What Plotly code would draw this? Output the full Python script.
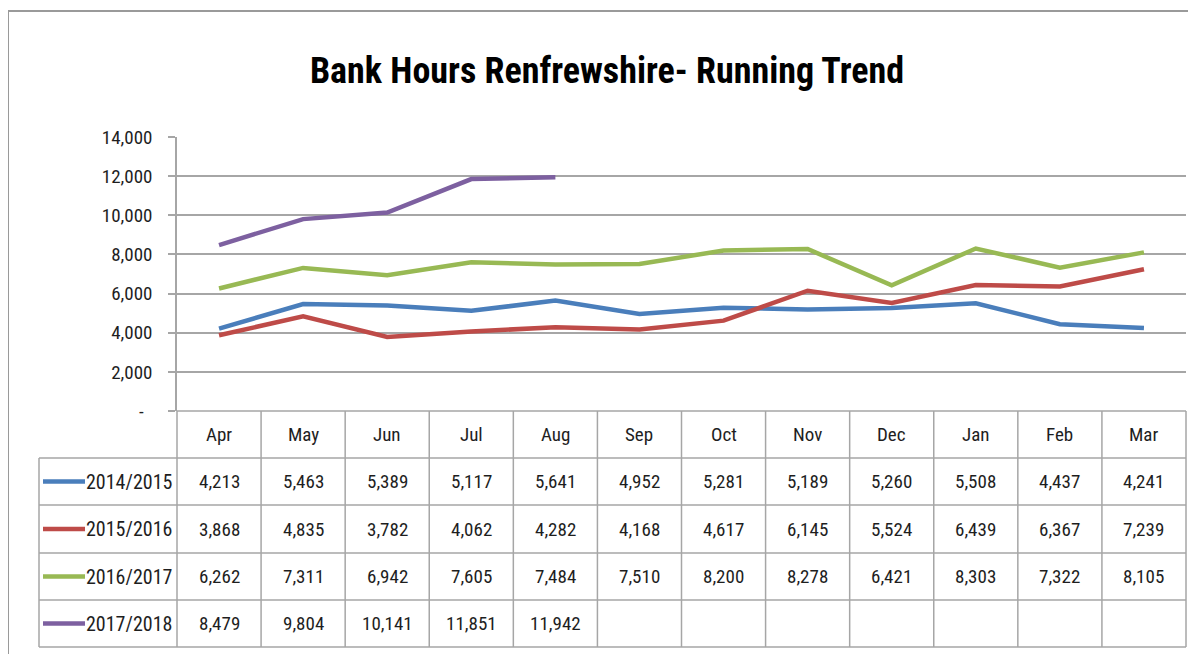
import plotly.graph_objects as go

# ---------------- data ----------------
months = ["Apr", "May", "Jun", "Jul", "Aug", "Sep", "Oct", "Nov", "Dec", "Jan", "Feb", "Mar"]
series_names = ["2014/2015", "2015/2016", "2016/2017", "2017/2018"]
s2014 = [4213, 5463, 5389, 5117, 5641, 4952, 5281, 5189, 5260, 5508, 4437, 4241]
s2015 = [3868, 4835, 3782, 4062, 4282, 4168, 4617, 6145, 5524, 6439, 6367, 7239]
s2016 = [6262, 7311, 6942, 7605, 7484, 7510, 8200, 8278, 6421, 8303, 7322, 8105]
s2017 = [8479, 9804, 10141, 11851, 11942, None, None, None, None, None, None, None]
ytick_vals = [0, 2000, 4000, 6000, 8000, 10000, 12000, 14000]
ytick_text = ["-  ", "2,000", "4,000", "6,000", "8,000", "10,000", "12,000", "14,000"]
title_text = "Bank Hours Renfrewshire- Running Trend"

# ---------------- style ----------------
W, H = 1196, 654
OFF = 8  # page body margin
colors = ["#4A7EBB", "#BE4B48", "#98B954", "#7D60A0"]
grid = "#a6a6a6"
tcol = "#1e1e1e"
FONT = "Liberation Sans Narrow, Arial Narrow, Roboto Condensed, DejaVu Sans Condensed, sans-serif"


def px(p):
    return (p - OFF) / W


def py(p):
    return 1 - (p - OFF) / H


plot_left, plot_right = 177, 1186
plot_top, plot_bottom = 137, 411
row_edges = [411, 458, 505, 553, 600, 647]
table_left = 39

fig = go.Figure()
all_series = [s2014, s2015, s2016, s2017]
for name, vals, c in zip(series_names, all_series, colors):
    fig.add_trace(go.Scatter(x=months, y=vals, mode="lines", name=name,
                             line=dict(color=c, width=4.5), connectgaps=False,
                             showlegend=False))

shapes = []
line_style = dict(color=grid, width=1.5)
# outer chart border (top and left)
shapes.append(dict(type="line", xref="paper", yref="paper", x0=px(8), x1=1.0, y0=py(11), y1=py(11),
                   line=dict(color="#9a9a9a", width=2)))
shapes.append(dict(type="line", xref="paper", yref="paper", x0=px(8), x1=px(8), y0=py(11), y1=0,
                   line=dict(color="#9a9a9a", width=2)))
# y axis extension through the table
shapes.append(dict(type="line", xref="paper", yref="paper", x0=px(plot_left), x1=px(plot_left),
                   y0=py(plot_bottom), y1=py(row_edges[-1]), line=line_style))
# header top line
shapes.append(dict(type="line", xref="paper", yref="paper", x0=px(plot_left), x1=px(plot_right),
                   y0=py(row_edges[0]), y1=py(row_edges[0]), line=line_style))
# row lines
for e in row_edges[1:]:
    shapes.append(dict(type="line", xref="paper", yref="paper", x0=px(table_left), x1=px(plot_right),
                       y0=py(e), y1=py(e), line=line_style))
# left and right table borders
shapes.append(dict(type="line", xref="paper", yref="paper", x0=px(table_left), x1=px(table_left),
                   y0=py(row_edges[1]), y1=py(row_edges[-1]), line=line_style))
shapes.append(dict(type="line", xref="paper", yref="paper", x0=px(plot_right), x1=px(plot_right),
                   y0=py(row_edges[0]), y1=py(row_edges[-1]), line=line_style))
# column separators (between categories)
for i in range(len(months) - 1):
    shapes.append(dict(type="line", xref="x", yref="paper", x0=i + 0.5, x1=i + 0.5,
                       y0=py(row_edges[0]), y1=py(row_edges[-1]), line=line_style))

annotations = []
# header month labels
hdr_y = (row_edges[0] + row_edges[1]) / 2
for i, m in enumerate(months):
    annotations.append(dict(x=m, xref="x", y=py(hdr_y), yref="paper", text=m, showarrow=False,
                            font=dict(family=FONT, size=19, color=tcol), xanchor="center", yanchor="middle"))
# data rows
for r, (name, vals, c) in enumerate(zip(series_names, all_series, colors)):
    cy = (row_edges[r + 1] + row_edges[r + 2]) / 2
    # legend key
    shapes.append(dict(type="line", xref="paper", yref="paper", x0=px(43), x1=px(85),
                       y0=py(cy), y1=py(cy), line=dict(color=c, width=4.5)))
    annotations.append(dict(x=px(84), xref="paper", y=py(cy), yref="paper", text=name, showarrow=False,
                            font=dict(family=FONT, size=20, color=tcol), xanchor="left", yanchor="middle"))
    for m, v in zip(months, vals):
        if v is None:
            continue
        annotations.append(dict(x=m, xref="x", y=py(cy), yref="paper", text=f"{v:,}", showarrow=False,
                                font=dict(family=FONT, size=19, color=tcol), xanchor="center", yanchor="middle"))

fig.update_layout(
    width=W, height=H,
    margin=dict(l=0, r=0, t=0, b=0, autoexpand=False),
    showlegend=False,
    paper_bgcolor="white", plot_bgcolor="white",
    title=dict(text=title_text, x=(607 - OFF) / W, y=1 - (70 - OFF) / H, xanchor="center", yanchor="middle",
               font=dict(family=FONT, size=36, color="#000000", weight="bold")),
    xaxis=dict(type="category", categoryarray=months, range=[-0.5, len(months) - 0.5],
               domain=[px(plot_left), px(plot_right)], showticklabels=False, showgrid=False,
               zeroline=False, showline=False, ticks="", automargin=False),
    yaxis=dict(range=[0, 14000], domain=[py(plot_bottom), py(plot_top)],
               tickvals=ytick_vals, ticktext=ytick_text, showgrid=True, gridcolor=grid, gridwidth=1.5,
               zeroline=False, showline=True, linecolor=grid, linewidth=1.5,
               ticks="outside", ticklen=7, tickcolor=grid, tickwidth=1.5,
               ticklabelstandoff=12, automargin=False,
               tickfont=dict(family=FONT, size=19, color=tcol)),
    shapes=shapes,
    annotations=annotations,
)

fig.write_html("out.html")
